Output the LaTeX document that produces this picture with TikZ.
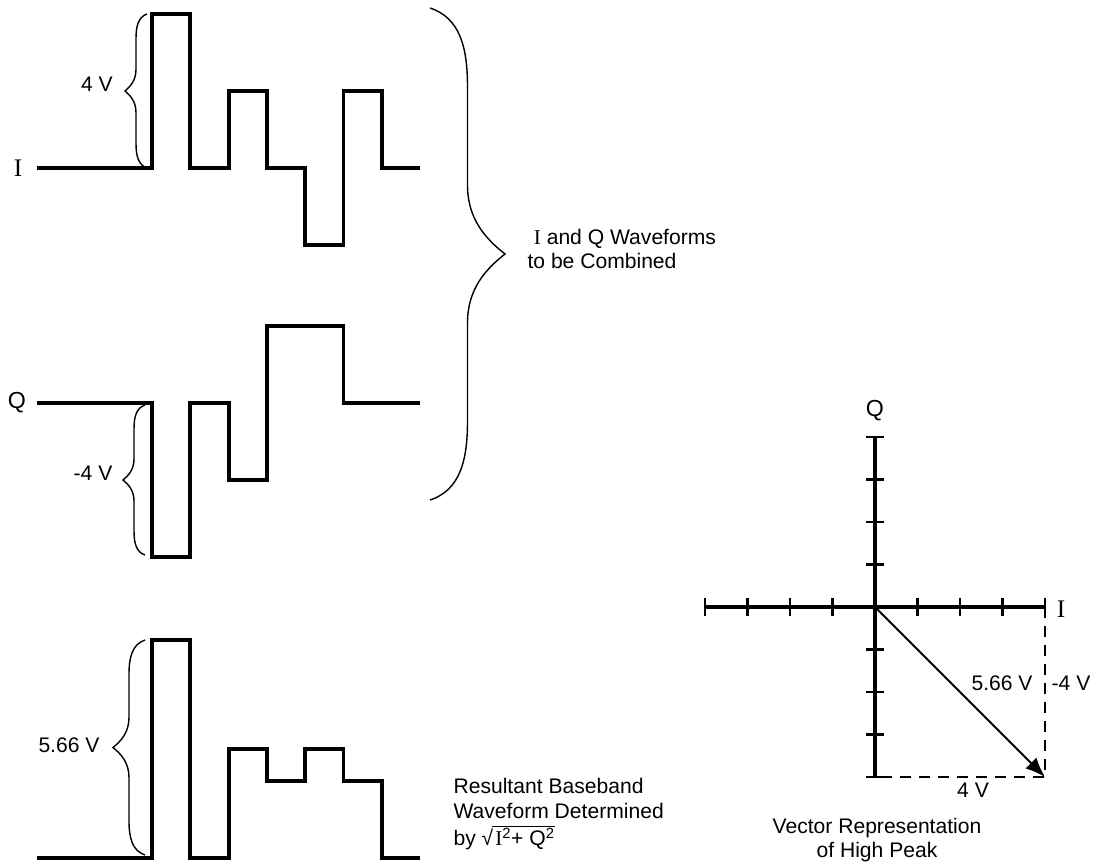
\documentclass[tikz,border=0pt]{standalone}
\usepackage{fontspec}
\setmainfont{Liberation Sans}
\newfontfamily\serif{Liberation Serif}
\usetikzlibrary{arrows.meta}

\tikzset{
	welle/.style={line width=2.8pt},
	achse/.style={line width=2.8pt},
	strich/.style={line width=2pt},
	gestrichelt/.style={line width=1.8pt,dash pattern=on 8pt off 5.5pt},
	pfeil/.style={line width=1.4pt},
	klammerlinie/.style={line width=1pt},
	beschr/.style={font=\fontsize{15}{17.5}\selectfont,inner sep=0pt},
	gross/.style={font=\fontsize{16.5}{19}\selectfont,inner sep=0pt},
	serifgross/.style={font=\fontsize{18}{20}\selectfont\serif,inner sep=0pt}
}
% root sign with bar
\newcommand\wurzel[1]{√\kern-0.6pt\vbox{\hrule height 0.7pt\kern0.8pt\hbox{\kern2pt#1}}}

\begin{document}
\begin{tikzpicture}[x=0.025cm,y=-0.025cm,>={Latex[length=14pt,width=11pt]},thick]
\def\xa{152}
\def\slot{38.3}
\def\volt{38.5}
% waveform: baseline, levels of the seven slots
\def\welle#1#2{
\draw[welle] (37,#1) -- (\xa,#1)
	\foreach \v [count=\k from 0] in {#2}{
		-- ({\xa+\k*\slot},{#1-(\v)*\volt}) -- ({\xa+\k*\slot+\slot},{#1-(\v)*\volt})
	};
}
% brace: x, top, bottom, amplitude (negative: tip to the left)
\def\klammer#1#2#3#4{
\draw[klammerlinie] (#1,#2)
	.. controls ({#1+0.4*(#4)},{#2+0.02*(#3-#2)}) and ({#1+0.5*(#4)},{#2+0.08*(#3-#2)}) .. ({#1+0.5*(#4)},{#2+0.16*(#3-#2)})
	-- ({#1+0.5*(#4)},{0.5*(#2+#3)-0.14*(#3-#2)})
	.. controls ({#1+0.5*(#4)},{0.5*(#2+#3)-0.07*(#3-#2)}) and ({#1+0.75*(#4)},{0.5*(#2+#3)-0.03*(#3-#2)}) .. ({#1+(#4)},{0.5*(#2+#3)})
	.. controls ({#1+0.75*(#4)},{0.5*(#2+#3)+0.03*(#3-#2)}) and ({#1+0.5*(#4)},{0.5*(#2+#3)+0.07*(#3-#2)}) .. ({#1+0.5*(#4)},{0.5*(#2+#3)+0.14*(#3-#2)})
	-- ({#1+0.5*(#4)},{#3-0.16*(#3-#2)})
	.. controls ({#1+0.5*(#4)},{#3-0.08*(#3-#2)}) and ({#1+0.4*(#4)},{#3-0.02*(#3-#2)}) .. (#1,#3);
}
\useasboundingbox (0,0) rectangle (1102,862);

% I, Q and resultant
\welle{168}{4,0,2,0,-2,2,0}
\welle{403}{-4,0,-2,2,2,0,0}
\welle{858}{5.66,0,2.83,2,2.83,2,0}
\node[serifgross] (labI) at (18,168) {I};
\node[gross] (labQ) at (17,403) {Q};

\klammer{147}{14}{168}{-22}
\klammer{145}{405}{555}{-22}
\klammer{145}{640}{855}{-32}
\klammer{430}{8}{500}{75}
\node[beschr] (amplI) at (97,84) {4 V};
\node[beschr] (amplQ) at (93,473) {-4 V};
\node[beschr] (amplR) at (69,745) {5.66 V};

\node[beschr,anchor=west,align=left] (kombi) at (527,249)
	{\hspace{0.3em}{\serif I} and Q Waveforms\\to be Combined};
\node[beschr,anchor=north west,align=left] (ergebnis) at (453,778)
	{Resultant Baseband\\Waveform Determined\\[2pt]by \wurzel{{\serif I}\textsuperscript{2}+ Q\textsuperscript{2}}};

% vector diagram
\coordinate (O) at (875,607);
\coordinate (Ilinks) at (705,607);
\coordinate (Irechts) at (1045,607);
\coordinate (Qoben) at (875,437);
\coordinate (Qunten) at (875,777);
\coordinate (P) at (1045,777);
\draw[achse] (Ilinks) -- (Irechts);
\draw[achse] (Qoben) -- (Qunten);
\foreach \k in {-4,-3,-2,-1,1,2,3,4}{
	\draw[strich] ({875+(\k)*42.5},598) -- ({875+(\k)*42.5},616);
	\draw[strich] (866,{607+(\k)*42.5}) -- (884,{607+(\k)*42.5});
}
\draw[gestrichelt] (Irechts) -- (P) -- (Qunten);
\draw[pfeil,->] (O) -- (P);
\node[gross] (achseQ) at (875,411) {Q};
\node[serifgross] (achseI) at (1061,609) {I};
\node[beschr] (betrag) at (1002,683) {5.66 V};
\node[beschr] (qwert) at (1071,683) {-4 V};
\node[beschr] (iwert) at (973,790) {4 V};
\node[beschr,align=center] (titel) at (877,840) {Vector Representation\\of High Peak};
\end{tikzpicture}
\end{document}
